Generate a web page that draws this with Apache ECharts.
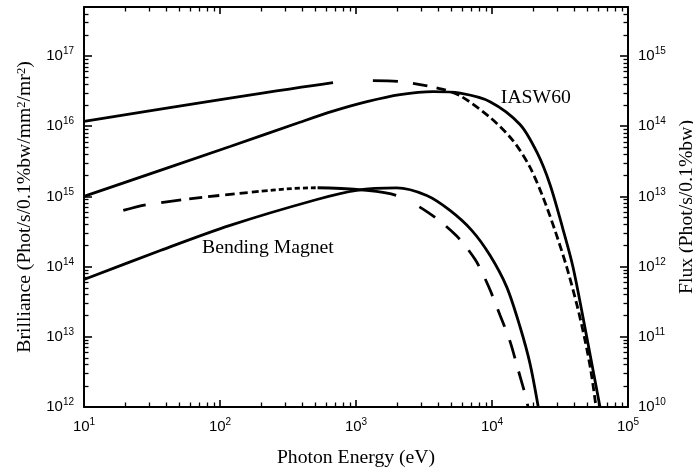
<!DOCTYPE html>
<html><head><meta charset="utf-8">
<script src="https://cdn.jsdelivr.net/npm/echarts@6/dist/echarts.min.js"></script>
<style>html,body{margin:0;padding:0;background:#fff}#c{width:693px;height:471px}</style>
</head><body><div id="c"></div>
<script>
// ---- tick labels / positions ----
const xMajorTicks = [10, 100, 1000, 10000, 100000];
const leftMajorTicks = [1e12, 1e13, 1e14, 1e15, 1e16, 1e17];
const rightMajorTicks = [1e10, 1e11, 1e12, 1e13, 1e14, 1e15];

// ---- data: [photon energy (eV), value] ----
// Brilliance (left axis)
const iaswBrilliance = [[10,1.0e15],[118.6,5.14e15],[387,1.14e16],[678,1.64e16],[1205,2.24e16],[2109,2.82e16],[3681,3.11e16],[5821,2.96e16],[9661,2.24e16],[16070,1.06e16],[21430,4.23e15],[26690,1.48e15],[33270,3.4e14],[39440,9.8e13],[49700,1.0e13],[62230,1.0e12]];
const bmBrilliance = [[10,6.55e13],[36.8,1.71e14],[118.6,3.87e14],[508,8.97e14],[1012,1.22e15],[1991,1.32e15],[3311,1.03e15],[4909,6.32e14],[7096,3.29e14],[9661,1.45e14],[12820,5.14e13],[16070,1.39e13],[19010,4.18e12],[21880,1.0e12]];
// Flux (right axis)
const iaswFlux = [[10,1.17e14],[678,4.18e14],[1327,4.47e14],[2037,4.37e14],[2958,3.92e14],[4285,3.38e14],[5821,2.73e14],[9661,1.34e14],[14260,6.25e13],[19010,2.61e13],[23710,9.77e12],[29040,3.29e12],[35400,9.89e11],[42170,2.82e11],[48300,8.97e10],[53500,3.15e10],[58200,1.0e10]];
const bmFlux = [[19.45,6.32e12],[28.6,7.62e12],[118.6,1.07e13],[508,1.33e13],[1199,1.22e13],[1991,1.03e13],[3381,5.93e12],[5433,2.79e12],[7499,1.27e12],[9354,5.43e11],[11460,2.03e11],[13550,8.67e10],[15520,3.47e10],[17500,1.53e10],[18410,1.0e10]];
// text annotations [x, brilliance]
const annotations = [{name:'IASW60', coord:[2.1e4, 2.56e16]}, {name:'Bending Magnet', coord:[225, 1.88e14]}];

function minorTicks(major, maxV) {
  const out = [];
  major.forEach(m => { for (let k = 2; k <= 9; k++) { const v = m * k; if (v <= maxV * 1.0001) out.push(v); } });
  return out;
}
function pattern(head, tail, n) { const a = head.slice(); for (let i = 0; i < n; i++) a.push(...tail); return a; }

const sans = 'Liberation Sans';
const serif = 'Liberation Serif';
const rich = { b: {fontFamily: sans, fontSize: 15, color: '#000'}, s: {fontFamily: sans, fontSize: 10, color: '#000', padding: [0,0,9,0]} };
const fmt = v => '{b|10}{s|' + Math.round(Math.log10(v)) + '}';
const black = '#000';
const serifSize = 19.7;

function axisCommon(extra) {
  return Object.assign({
    type: 'log', logBase: 10, splitLine: {show: false},
    axisLine: {show: true, onZero: false, lineStyle: {color: black, width: 2}},
  }, extra);
}
function majorTick(vals, len) { return {show: true, inside: true, length: len, lineStyle: {color: black, width: 1.6}, customValues: vals}; }
function minorTick(vals, len) { return {show: true, inside: true, length: len, lineStyle: {color: black, width: 1.3}, customValues: vals}; }

const xMinor = minorTicks(xMajorTicks.slice(0, 4), 1e5);
const leftMinor = minorTicks(leftMajorTicks, 5e17);
const rightMinor = minorTicks(rightMajorTicks, 5e15);

const nameStyle = {fontFamily: serif, fontSize: serifSize, color: black, rich: {s: {fontFamily: serif, fontSize: 12.5, color: black, padding: [0,0,8,0]}}};
const lineBase = {type: 'line', symbol: 'none', smooth: 0.3, xAxisIndex: 0};

const option = {
  animation: false,
  backgroundColor: '#fff',
  grid: {left: 84, right: 65, top: 7, bottom: 64, containLabel: false, outerBoundsMode: 'none'},
  xAxis: [
    axisCommon({position: 'bottom', min: 10, max: 1e5, axisTick: majorTick(xMajorTicks, 7),
      axisLabel: {customValues: xMajorTicks, formatter: fmt, rich: rich, margin: 10},
      name: 'Photon Energy (eV)', nameLocation: 'middle', nameGap: 41, nameTextStyle: nameStyle}),
    axisCommon({position: 'bottom', min: 10, max: 1e5, axisLine: {show: false}, axisTick: minorTick(xMinor, 4.5), axisLabel: {show: false}}),
    axisCommon({position: 'top', min: 10, max: 1e5, axisTick: majorTick(xMajorTicks, 7), axisLabel: {show: false}}),
    axisCommon({position: 'top', min: 10, max: 1e5, axisLine: {show: false}, axisTick: minorTick(xMinor, 4.5), axisLabel: {show: false}})
  ],
  yAxis: [
    axisCommon({position: 'left', min: 1e12, max: 5e17, axisTick: majorTick(leftMajorTicks, 8),
      axisLabel: {customValues: leftMajorTicks, formatter: fmt, rich: rich, margin: 10},
      name: 'Brilliance (Phot/s/0.1%bw/mm{s|2}/mr{s|2})', nameLocation: 'middle', nameRotate: 90, nameGap: 48, nameTextStyle: nameStyle}),
    axisCommon({position: 'left', min: 1e12, max: 5e17, axisLine: {show: false}, axisTick: minorTick(leftMinor, 4.5), axisLabel: {show: false}}),
    axisCommon({position: 'right', min: 1e10, max: 5e15, axisTick: majorTick(rightMajorTicks, 8),
      axisLabel: {customValues: rightMajorTicks, formatter: fmt, rich: rich, margin: 10},
      name: 'Flux (Phot/s/0.1%bw)', nameLocation: 'middle', nameRotate: 90, nameGap: 46, nameTextStyle: nameStyle}),
    axisCommon({position: 'right', min: 1e10, max: 5e15, axisLine: {show: false}, axisTick: minorTick(rightMinor, 4.5), axisLabel: {show: false}})
  ],
  series: [
    Object.assign({}, lineBase, {name: 'IASW60 brilliance', yAxisIndex: 0, data: iaswBrilliance,
      lineStyle: {color: black, width: 2.8},
      markPoint: {symbol: 'circle', symbolSize: 1, itemStyle: {color: 'rgba(0,0,0,0)'},
        label: {show: true, position: 'inside', formatter: '{b}', fontFamily: serif, fontSize: serifSize, color: black},
        data: annotations.map(a => ({name: a.name, coord: a.coord}))}}),
    Object.assign({}, lineBase, {name: 'BM brilliance', yAxisIndex: 0, data: bmBrilliance,
      lineStyle: {color: black, width: 2.8}}),
    Object.assign({}, lineBase, {name: 'IASW60 flux', yAxisIndex: 2, data: iaswFlux,
      lineStyle: {color: black, width: 2.8, type: pattern([252,40,25,15,15,9,10,6], [8,4], 60)}}),
    Object.assign({}, lineBase, {name: 'BM flux', yAxisIndex: 2, data: bmFlux,
      lineStyle: {color: black, width: 2.8, type: pattern([23,16,20,8,13,6,11,6,10,5,8,4,7,3,6,3,5,3,5,3,5,3,5,3,5,3,5,2,79,26], [19,14], 20)}})
  ]
};
const chart = echarts.init(document.getElementById('c'), null, {renderer: 'canvas'});
chart.setOption(option);
</script>
</body></html>
